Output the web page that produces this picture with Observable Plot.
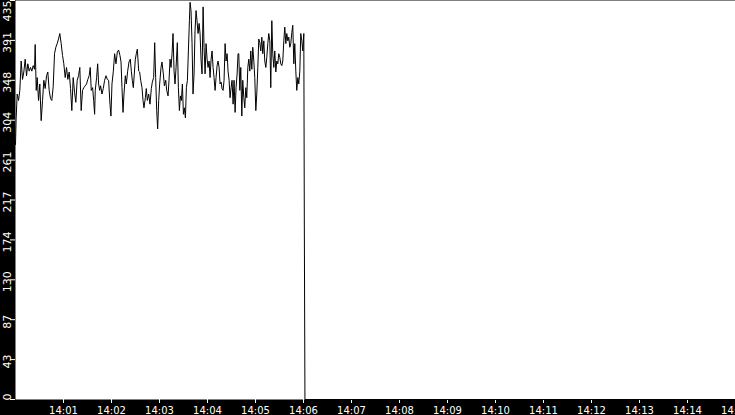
<!DOCTYPE html>
<html>
<head>
<meta charset="utf-8">
<script src="https://cdn.jsdelivr.net/npm/d3@7"></script>
<script src="https://cdn.jsdelivr.net/npm/@observablehq/plot@0.6"></script>
<style>
  html, body { margin: 0; padding: 0; background: white; overflow: hidden; }
</style>
</head>
<body>
<div id="chart"></div>
<script>
// seconds after 14:00:00
const seconds = [
  0, 0.8, 2.1, 3.8, 5.4, 7.1, 8.8, 10.4, 12.1, 13.8, 15.4, 17.1, 18.8, 20.4, 22.1, 23.8, 24.6, 25.9, 27.1, 28.8,
  30.4, 32.1, 33.8, 35.4, 37.1, 38.8, 40.4, 42.1, 43.8, 45.4, 47.1, 48.8, 50.4, 52.1, 53.8, 55.4, 57.1, 58.8, 60.4, 62.1,
  63.8, 65.4, 67.1, 68.8, 70.4, 72.1, 73.8, 75.4, 77.1, 78.8, 80.4, 82.1, 83.8, 85.4, 87.1, 88.8, 90.4, 92.1, 93.4,
  94.7, 96.4, 97.7, 98.9, 99.7, 101.4, 102.7, 103.9, 105.2, 106.4, 108.1, 109.7, 111.4, 113.1, 114.8, 116.4, 118.1, 119.3,
  120.6, 122.3, 123.9, 125.6, 127.3, 128.9, 130.6, 131.9, 133.1, 134.4, 135.6, 137.3, 138.5, 140.2, 141.9, 143.5, 144.8,
  146.0, 147.3, 148.5, 149.8, 151.0, 152.3, 154.0, 155.2, 156.5, 158.1, 159.4, 160.6, 162.3, 163.5, 164.8, 166.5, 168.1,
  169.8, 171.0, 172.7, 174.0, 175.2, 176.5, 177.7, 179.0, 180.2, 181.9, 183.1, 184.8, 186.1,
  187.8, 189.0, 190.7, 191.9, 193.2, 194.4, 195.7, 196.9, 198.2, 199.4, 200.7, 202.3, 203.6, 204.9, 206.1, 207.4, 208.6,
  209.9, 211.1, 212.4, 213.6, 214.9, 216.1, 217.4, 218.2, 219.4, 220.7, 221.9, 223.2, 224.4, 225.7, 226.9, 228.2, 229.5,
  230.7, 232.0, 233.2, 234.5, 235.7, 237.0, 238.2, 239.5, 240.7, 242.0, 243.2, 244.5, 245.7, 247.0, 248.2, 249.5, 250.7,
  252.0, 253.2, 254.5, 255.7, 257.0, 258.2, 259.5, 260.7, 262.0, 263.2, 264.5, 265.7, 267.0, 268.2, 269.5, 270.7, 272.0,
  273.2, 274.5, 275.7, 277.0, 278.2,
  279.1, 280.4, 281.6, 282.9, 284.1, 285.4, 286.6, 287.9, 289.1, 290.4, 291.6, 292.9, 294.1, 295.4, 296.6, 297.9, 299.1,
  300.4, 301.6, 302.9, 304.1, 305.4, 306.6, 307.9, 309.1, 310.4, 311.6, 312.9, 314.1, 315.4, 316.6, 317.9, 319.1, 320.4,
  321.6, 322.9, 324.1, 325.4, 326.6, 327.9, 329.1, 330.4, 331.6, 332.9, 334.1, 335.4, 336.6, 337.9, 339.1, 340.4, 341.6,
  342.9, 344.1, 345.4, 346.6, 347.9, 349.1, 350.4, 351.6, 352.9, 354.1, 355.4, 356.6, 357.9, 359.1, 360.4,
  361.0, 361.8, 900
];
const values = [
  278, 306, 333, 326, 337, 369, 349, 357, 371, 353, 366, 358, 362, 358, 364, 360, 387, 337, 351, 326,
  344, 304, 326, 348, 339, 353, 357, 337, 328, 326, 341, 377, 384, 388, 393, 399, 388, 375, 366, 351,
  362, 349, 357, 339, 315, 351, 335, 324, 348, 353, 362, 315, 337, 340, 342, 344, 349, 353, 362,
  337, 340, 326, 311, 337, 351, 366, 344, 337, 342, 333, 339, 348, 353, 349, 348, 322, 309,
  344, 358, 377, 366, 379, 381, 375, 368, 340, 313, 333, 353, 344, 358, 368, 371, 358,
  348, 340, 355, 371, 377, 382, 358, 357, 348, 340, 326, 318, 329, 339, 326, 333, 322,
  339, 346, 351, 389, 351, 315, 295, 326, 344, 362, 368, 355, 342,
  348, 337, 331, 348, 371, 362, 377, 399, 358, 344, 362, 389, 340, 315, 331, 326, 344,
  311, 318, 307, 340, 348, 380, 413, 433, 424, 388, 333, 355, 402, 424, 413, 399, 410,
  399, 369, 355, 428, 384, 355, 388, 371, 362, 369, 351, 371, 380, 362, 351, 337, 351,
  364, 369, 362, 344, 346, 339, 337, 348, 388, 369, 377, 358, 348, 329, 340, 348, 322,
  348, 313, 340, 355, 377,
  377, 337, 362, 309, 348, 329, 318, 340, 329, 362, 371, 358, 380, 360, 384, 369, 351,
  315, 333, 362, 393, 389, 380, 395, 377, 391, 369, 362, 373, 388, 399, 391, 340, 413,
  377, 362, 380, 357, 369, 366, 377, 373, 366, 364, 369, 391, 406, 388, 399, 391, 395,
  384, 388, 400, 408, 366, 388, 358, 337, 351, 344, 358, 399, 391, 380, 399,
  199, 0, 0
];

const xTickLabels = ["14:01","14:02","14:03","14:04","14:05","14:06","14:07","14:08","14:09","14:10","14:11","14:12","14:13","14:14","14:15"];
const xStart = "14:00";
const xEnd = "14:15";
const yTicks = [0, 43.5, 87, 130.5, 174, 217.5, 261, 304.5, 348, 391.5, 435];
const yTickLabels = ["0","43","87","130","174","217","261","304","348","391","435"];

const parse = d3.timeParse("%H:%M");
const fmt = d3.timeFormat("%H:%M");
const t0 = parse(xStart);
const data = seconds.map((s, i) => ({date: new Date(+t0 + s * 1000), value: values[i]}));
const xTicks = xTickLabels.map(parse);

const yLabelData = yTicks.map((v, i) => ({v, label: yTickLabels[i]}));
const yBottom = yLabelData.slice(0, 1);
const yMid = yLabelData.slice(1, -1);
const yTop = yLabelData.slice(-1);

const plot = Plot.plot({
  width: 735,
  height: 415,
  marginLeft: 15,
  marginRight: 0,
  marginTop: 0,
  marginBottom: 16,
  style: {background: "black", color: "white", fontFamily: "DejaVu Sans", fontSize: "10px"},
  x: {type: "time", domain: [t0, parse(xEnd)]},
  y: {domain: [0, 435]},
  marks: [
    Plot.frame({fill: "white", stroke: "none"}),
    Plot.axisX({ticks: xTicks, tickFormat: fmt, tickSize: 4, tickPadding: 3, stroke: "white", fill: "white"}),
    Plot.axisY({ticks: yTicks, tickSize: 5, tickFormat: () => "", stroke: "white"}),
    Plot.text(yBottom, {y: "v", text: "label", frameAnchor: "left", textAnchor: "start", rotate: -90, dx: -8.5, dy: 1, fill: "white", fontSize: 11}),
    Plot.text(yMid, {y: "v", text: "label", frameAnchor: "left", textAnchor: "middle", rotate: -90, dx: -8.5, dy: 2, fill: "white", fontSize: 11}),
    Plot.text(yTop, {y: "v", text: "label", frameAnchor: "left", textAnchor: "end", rotate: -90, dx: -8.5, fill: "white", fontSize: 11}),
    Plot.line(data, {x: "date", y: "value", stroke: "black", strokeWidth: 1})
  ]
});
document.getElementById("chart").appendChild(plot);
</script>
</body>
</html>
